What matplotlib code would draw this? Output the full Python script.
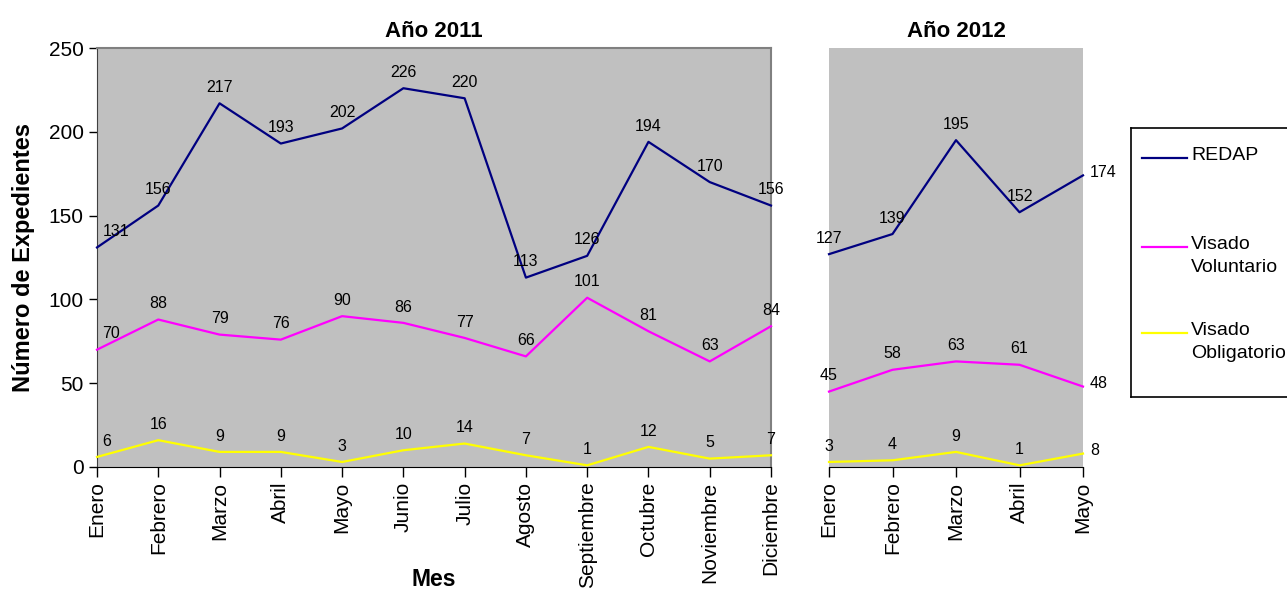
import matplotlib
matplotlib.use('Agg')
import matplotlib.pyplot as plt
from matplotlib.lines import Line2D

plt.rcParams['font.family'] = ['Liberation Sans', 'DejaVu Sans']

meses_2011 = ['Enero', 'Febrero', 'Marzo', 'Abril', 'Mayo', 'Junio', 'Julio',
              'Agosto', 'Septiembre', 'Octubre', 'Noviembre', 'Diciembre']
meses_2012 = ['Enero', 'Febrero', 'Marzo', 'Abril', 'Mayo']

redap_2011 = [131, 156, 217, 193, 202, 226, 220, 113, 126, 194, 170, 156]
voluntario_2011 = [70, 88, 79, 76, 90, 86, 77, 66, 101, 81, 63, 84]
obligatorio_2011 = [6, 16, 9, 9, 3, 10, 14, 7, 1, 12, 5, 7]

redap_2012 = [127, 139, 195, 152, 174]
voluntario_2012 = [45, 58, 63, 61, 48]
obligatorio_2012 = [3, 4, 9, 1, 8]

series_names = ['REDAP', 'Visado\nVoluntario', 'Visado\nObligatorio']
colors = ['#000080', '#FF00FF', '#FFFF00']
gris = '#C0C0C0'

fig = plt.figure(figsize=(12.87, 5.94), dpi=100)
ax1 = fig.add_axes([97 / 1287, 127 / 594, 674 / 1287, 419 / 594])
ax2 = fig.add_axes([829 / 1287, 127 / 594, 254 / 1287, 419 / 594])


def draw_panel(ax, meses, data, first_right=False, last_right=False):
    ax.set_facecolor(gris)
    x = list(range(len(meses)))
    for vals, c in zip(data, colors):
        ax.plot(x, vals, color=c, lw=1.6, clip_on=False, zorder=3)
        for i, v in enumerate(vals):
            if last_right and i == len(vals) - 1:
                ax.annotate(str(v), (i, v), xytext=(5, 2), textcoords='offset points',
                            ha='left', va='center', fontsize=11.5, annotation_clip=False)
            elif first_right and i == 0:
                ax.annotate(str(v), (i, v), xytext=(4, 6), textcoords='offset points',
                            ha='left', va='bottom', fontsize=11.5, annotation_clip=False)
            else:
                ax.annotate(str(v), (i, v), xytext=(0, 6), textcoords='offset points',
                            ha='center', va='bottom', fontsize=11.5, annotation_clip=False)
    ax.set_xlim(0, len(meses) - 1)
    ax.set_ylim(0, 250)
    ax.set_xticks(x)
    ax.set_xticklabels(meses, rotation=90, fontsize=15)
    ax.tick_params(axis='x', length=7, direction='out', width=1)


draw_panel(ax1, meses_2011, [redap_2011, voluntario_2011, obligatorio_2011], first_right=True)
draw_panel(ax2, meses_2012, [redap_2012, voluntario_2012, obligatorio_2012], last_right=True)

ax1.set_yticks(range(0, 251, 50))
ax1.tick_params(axis='y', labelsize=15, length=6, width=1)
for s in ['top', 'right']:
    ax1.spines[s].set_color('#808080')
    ax1.spines[s].set_linewidth(1.5)
ax1.spines['left'].set_color('#404040')
ax1.set_title('Año 2011', fontsize=16, fontweight='bold', pad=8)
ax1.set_ylabel('Número de Expedientes', fontsize=17, fontweight='bold', labelpad=10)
fig.text((97 + 674 / 2) / 1287, 1 - 580 / 594, 'Mes', fontsize=16.5, fontweight='bold',
         ha='center', va='center')

ax2.set_yticks([])
for s in ['top', 'right', 'left']:
    ax2.spines[s].set_visible(False)
ax2.set_title('Año 2012', fontsize=16, fontweight='bold', pad=8)

# legend box (right side runs off the figure, as in the original)
lg = fig.add_axes([1131 / 1287, 197 / 594, 170 / 1287, 269 / 594])
lg.set_xticks([])
lg.set_yticks([])
lg.set_xlim(0, 170)
lg.set_ylim(269, 0)
for s in lg.spines.values():
    s.set_linewidth(1.2)
ys = [30, 119, 205]
for name, c, y in zip(series_names, colors, ys):
    lg.add_line(Line2D([11, 56], [y, y], color=c, lw=1.6))
    lg.text(60, y - 11, name, fontsize=14, va='top', ha='left', linespacing=1.5)

fig.savefig('out.png', dpi=100)
